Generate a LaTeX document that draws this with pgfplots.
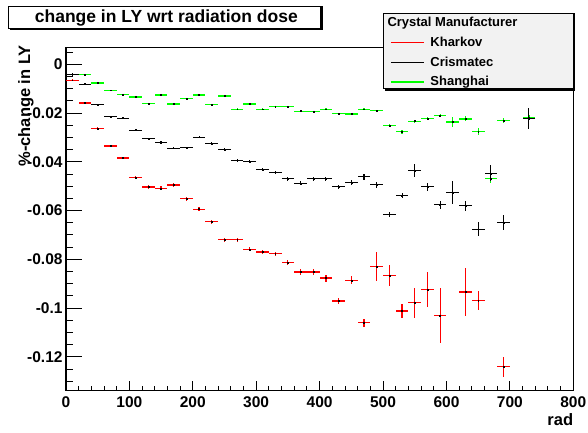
\documentclass[border=0pt]{standalone}
\usepackage{fontspec}
\setmainfont{Liberation Sans}
\usepackage{pgfplots}
\usepackage{pgfplotstable}
\pgfplotsset{compat=1.18}
\definecolor{rootgreen}{RGB}{0,255,0}
\definecolor{legbg}{RGB}{242,242,242}

\pgfplotstableread{
x y ex ey
10 -0.0065 10 0.0003
30 -0.0159 10 0.0004
50 -0.0263 10 0.0004
70 -0.0335 10 0.0005
90 -0.0384 10 0.0005
110 -0.0465 10 0.0006
130 -0.0503 10 0.0007
150 -0.0509 10 0.0008
170 -0.0495 10 0.0010
190 -0.0551 10 0.0008
210 -0.0594 10 0.0008
230 -0.0646 10 0.0008
250 -0.0720 10 0.0008
270 -0.0720 10 0.0008
290 -0.0759 10 0.0008
310 -0.0770 10 0.0008
330 -0.0777 10 0.0009
350 -0.0813 10 0.0010
370 -0.0852 10 0.0012
390 -0.0852 10 0.0014
410 -0.0877 10 0.0014
430 -0.0971 10 0.0014
450 -0.0886 10 0.0016
470 -0.1060 10 0.0016
490 -0.0831 10 0.0059
510 -0.0867 10 0.0043
530 -0.1012 10 0.0029
550 -0.0978 10 0.0062
570 -0.0925 10 0.0071
590 -0.1030 10 0.0112
630 -0.0934 10 0.0098
650 -0.0968 10 0.0039
690 -0.1241 10 0.0041
}\kharkov

\pgfplotstableread{
x y ex ey
10 -0.0040 10 0.0002
30 -0.0081 10 0.0003
50 -0.0166 10 0.0003
70 -0.0215 10 0.0004
90 -0.0221 10 0.0004
110 -0.0270 10 0.0004
130 -0.0306 10 0.0004
150 -0.0321 10 0.0005
170 -0.0344 10 0.0005
190 -0.0343 10 0.0005
210 -0.0299 10 0.0005
230 -0.0324 10 0.0005
250 -0.0350 10 0.0005
270 -0.0395 10 0.0006
290 -0.0398 10 0.0006
310 -0.0433 10 0.0006
330 -0.0444 10 0.0007
350 -0.0470 10 0.0007
370 -0.0488 10 0.0008
390 -0.0470 10 0.0008
410 -0.0470 10 0.0009
430 -0.0503 10 0.0009
450 -0.0484 10 0.0011
470 -0.0461 10 0.0013
490 -0.0494 10 0.0012
510 -0.0615 10 0.0011
530 -0.0538 10 0.0011
550 -0.0436 10 0.0027
570 -0.0502 10 0.0016
590 -0.0576 10 0.0017
610 -0.0525 10 0.0047
630 -0.0580 10 0.0020
650 -0.0676 10 0.0029
670 -0.0447 10 0.0032
690 -0.0649 10 0.0030
730 -0.0224 10 0.0043
}\crismatec

\pgfplotstableread{
x y ex ey
10 -0.0042 10 0.0002
30 -0.0042 10 0.0002
50 -0.0077 10 0.0002
70 -0.0106 10 0.0002
90 -0.0125 10 0.0002
110 -0.0134 10 0.0002
130 -0.0160 10 0.0002
150 -0.0126 10 0.0003
170 -0.0163 10 0.0003
190 -0.0141 10 0.0003
210 -0.0126 10 0.0003
230 -0.0166 10 0.0003
250 -0.0130 10 0.0003
270 -0.0184 10 0.0003
290 -0.0163 10 0.0003
310 -0.0184 10 0.0003
330 -0.0173 10 0.0003
350 -0.0173 10 0.0004
370 -0.0192 10 0.0004
390 -0.0195 10 0.0004
410 -0.0184 10 0.0004
430 -0.0202 10 0.0004
450 -0.0204 10 0.0004
470 -0.0184 10 0.0004
490 -0.0191 10 0.0005
510 -0.0251 10 0.0006
530 -0.0276 10 0.0008
550 -0.0233 10 0.0006
570 -0.0222 10 0.0006
590 -0.0211 10 0.0007
610 -0.0237 10 0.0022
630 -0.0224 10 0.0010
650 -0.0277 10 0.0014
670 -0.0468 10 0.0020
690 -0.0230 10 0.0011
730 -0.0217 10 0.0011
}\shanghai

\begin{document}
\begin{tikzpicture}
\useasboundingbox (0,0) rectangle (588pt,432pt);
\pgfplotsset{base/.style={scale only axis, width=507.4pt, height=343.2pt,
  at={(65.9pt,41.3pt)}, anchor=south west,
  xmin=0, xmax=800, ymin=-0.1339, ymax=0.0069}}
% main axis: data, frame, y ticks
\begin{axis}[base,
  axis line style={line width=1.2pt},
  tick style={black, line width=0.9pt},
  tick align=inside, tick pos=left,
  xtick=\empty,
  ytick={-0.12,-0.1,-0.08,-0.06,-0.04,-0.02,0},
  yticklabels={-0.12,-0.1,-0.08,-0.06,-0.04,-0.02,0},
  minor ytick={-0.13,-0.125,-0.115,-0.11,-0.105,-0.095,-0.09,-0.085,-0.075,-0.07,-0.065,-0.055,-0.05,-0.045,-0.035,-0.03,-0.025,-0.015,-0.01,-0.005,0.005},
  major tick length=15.7pt, minor tick length=7.5pt,
  yticklabel style={font=\fontsize{15.5}{15.5}\selectfont\bfseries, anchor=east, inner sep=0pt, xshift=-3.2pt},
  ylabel={\%-change in LY},
  ylabel style={at={(rel axis cs:-0.0786,1.0073)}, anchor=east, inner sep=0pt, font=\fontsize{16.5}{16.5}\selectfont\bfseries},
  error bars/error mark=none,
]
\addplot[only marks, mark=square*, mark size=0.45pt, mark options={black},
  error bars/.cd, x dir=both, x explicit, y dir=both, y explicit,
  error bar style={rootgreen, line width=1.2pt}]
  table[x=x, y=y, x error=ex, y error=ey] {\shanghai};
\addplot[only marks, mark=square*, mark size=0.45pt, mark options={black},
  error bars/.cd, x dir=both, x explicit, y dir=both, y explicit,
  error bar style={red, line width=1.2pt}]
  table[x=x, y=y, x error=ex, y error=ey] {\kharkov};
\addplot[only marks, mark=square*, mark size=0.45pt, mark options={black},
  error bars/.cd, x dir=both, x explicit, y dir=both, y explicit,
  error bar style={black, line width=1.1pt}]
  table[x=x, y=y, x error=ex, y error=ey] {\crismatec};
\end{axis}
% second axis: x ticks and labels
\begin{axis}[base,
  axis line style={draw=none},
  tick style={black, line width=0.9pt},
  tick align=inside, tick pos=left,
  ytick=\empty,
  xtick={0,100,...,800},
  xticklabels={0,100,200,300,400,500,600,700,800},
  minor x tick num=4,
  major tick length=10pt, minor tick length=5pt,
  xticklabel style={font=\fontsize{15.5}{15.5}\selectfont\bfseries, anchor=north, inner sep=0pt, yshift=-5.3pt},
  xlabel={rad},
  xlabel style={at={(rel axis cs:1,-0.065)}, anchor=north east, inner sep=0pt, font=\fontsize{16.5}{16.5}\selectfont\bfseries},
]
\end{axis}
% legend box
\fill[black] (385pt,341.5pt) rectangle (575.3pt,418.7pt);
\filldraw[fill=legbg, draw=black, line width=0.8pt] (383pt,343.7pt) rectangle (573pt,418.7pt);
\node[anchor=west, inner sep=0pt, font=\fontsize{13}{13}\selectfont\bfseries] at (387.3pt,408.7pt) {Crystal Manufacturer};
% legend entries
\begin{axis}[base, hide axis,
  legend style={at={(axis description cs:0.6388,1.0308)}, anchor=north west,
    draw=none, fill=none, inner sep=0pt, row sep=8.8pt,
    font=\fontsize{13}{13}\selectfont\bfseries,
    nodes={inner sep=0pt},
    /tikz/every odd column/.append style={column sep=6pt}},
  legend cell align=left,
]
\addlegendimage{legend image code/.code={\draw[red, line width=1.5pt] (0pt,0pt) -- (32.7pt,0pt);}}
\addlegendentry{Kharkov}
\addlegendimage{legend image code/.code={\draw[black, line width=1.1pt] (0pt,0pt) -- (32.7pt,0pt);}}
\addlegendentry{Crismatec}
\addlegendimage{legend image code/.code={\draw[rootgreen, line width=1.5pt] (0pt,0pt) -- (32.7pt,0pt);}}
\addlegendentry{Shanghai}
\end{axis}
% title box
\fill[black] (10.3pt,402pt) rectangle (322.7pt,426pt);
\filldraw[fill=white, draw=black, line width=0.8pt] (8.3pt,404pt) rectangle (320.7pt,426pt);
\node[inner sep=0pt, font=\fontsize{17.5}{17.5}\selectfont\bfseries] at (166.3pt,414pt) {change in LY wrt radiation dose};
\end{tikzpicture}
\end{document}
